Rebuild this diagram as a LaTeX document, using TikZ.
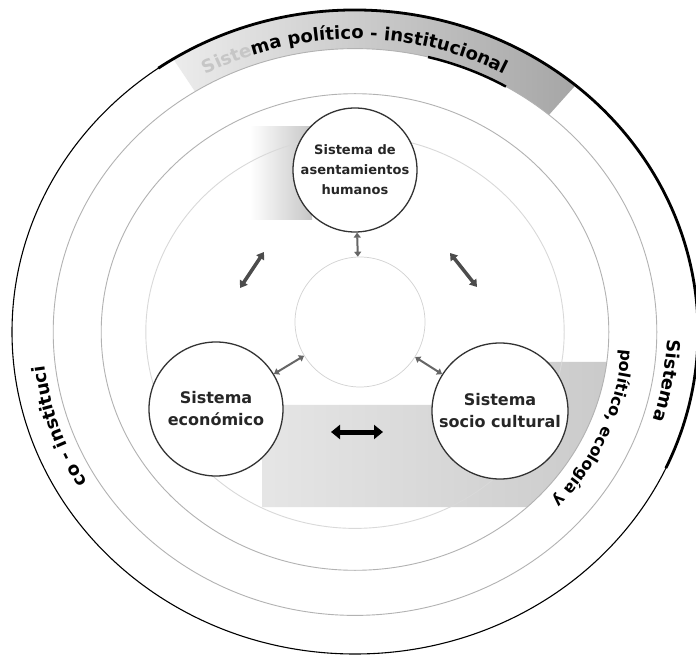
\documentclass[tikz,border=0pt]{standalone}
\usepackage{fontspec}
\newfontfamily\dv{DejaVu Sans}
\newcommand\ringf{\dv\bfseries\fontsize{18}{18}\selectfont}
\newcommand\innerf{\dv\bfseries\fontsize{16}{16}\selectfont}
\usetikzlibrary{calc,decorations.text,arrows.meta}
\begin{document}
\begin{tikzpicture}[x=1pt,y=1pt,
  ringline/.style={draw=gray!60, line width=0.9pt},
  sysnode/.style={circle, fill=white, draw=black!80, line width=1.3pt, align=center, inner sep=0pt, text=black!85},
  midnode/.style={circle, draw=gray!35, line width=0.7pt, inner sep=0pt},
  smallarr/.style={{Triangle[length=5pt,width=7pt]}-{Triangle[length=5pt,width=7pt]}, line width=2pt, draw=black!60},
  diagarr/.style={{Triangle[length=7pt,width=9pt]}-{Triangle[length=7pt,width=9pt]}, line width=3.5pt, draw=black!70},
  bigarr/.style={{Triangle[length=9pt,width=14pt]}-{Triangle[length=9pt,width=14pt]}, line width=5pt, draw=black},
  ringtext/.style={decorate, decoration={text along path, text align=center, text={#1}}},
  ringtextl/.style={decorate, decoration={text along path, text align=left, text={#1}}}
]
\useasboundingbox (0,0) rectangle (696,654);
\fill[white] (0,0) rectangle (696,654);
\coordinate (C) at (355,322);

% grey band of the outer ring
\shade[left color=gray!15, right color=gray!70]
  ($(C)+(122:343 and 322)$) arc[start angle=122,end angle=50,x radius=343,y radius=322]
  -- ($(C)+(50:301.8 and 283.4)$) arc[start angle=50,end angle=122,x radius=301.8,y radius=283.4] -- cycle;

% grey areas behind the circles
\shade[left color=white, right color=gray!45] (250,434) rectangle (312,527);
\begin{scope}
  \clip (C) ellipse[x radius=253.8,y radius=238.3];
  \shade[left color=gray!20, right color=gray!42]
    (262,249) -- (540,249) -- (540,292) -- (620,292) -- (620,147) -- (262,147) -- cycle;
\end{scope}

% rings
\draw[line width=1.1pt] (C) ellipse[x radius=343,y radius=322];
\draw[line width=2.8pt] ($(C)+(125:343 and 322)$) arc[start angle=125,end angle=-25,x radius=343,y radius=322];
\draw[ringline] (C) ellipse[x radius=301.8,y radius=283.4];
\draw[line width=2.5pt] ($(C)+(76:301.8 and 283.4)$) arc[start angle=76,end angle=60,x radius=301.8,y radius=283.4];
\draw[ringline] (C) ellipse[x radius=253.8,y radius=238.3];
\draw[ringline, draw=gray!30] (C) ellipse[x radius=209.2,y radius=196.4];

% ring texts
\path[ringtext={|\ringf\color{gray!45}|Siste|\ringf|ma político - institucional}]
  ($(C)+(150:312.1 and 293)$) arc[start angle=150,end angle=30,x radius=312.1,y radius=293];
\path[ringtextl={|\ringf|Sistema}]
  ($(C)+(-1.5:312.1 and 293)$) arc[start angle=-1.5,end angle=-40,x radius=312.1,y radius=293];
\path[ringtextl={|\ringf|co - instituci}]
  ($(C)+(211:312.1 and 293)$) arc[start angle=211,end angle=150,x radius=312.1,y radius=293];
\path[ringtextl={|\innerf|político, ecología y}]
  ($(C)+(-4:267.5 and 251.2)$) arc[start angle=-4,end angle=-80,x radius=267.5,y radius=251.2];

% circles
\node[midnode, minimum size=130pt] (mid) at (360,332) {};
\node[sysnode, minimum size=124pt, font=\dv\bfseries\fontsize{13}{20}\selectfont] (top) at (355,484) {Sistema de\\asentamientos\\humanos};
\node[sysnode, minimum size=134pt, font=\dv\bfseries\fontsize{16}{22}\selectfont] (eco) at (216,245) {Sistema\\económico};
\node[sysnode, minimum size=136pt, font=\dv\bfseries\fontsize{16}{22}\selectfont] (soc) at (500,243) {Sistema\\socio cultural};

% arrows
\draw[smallarr] (mid) -- (top);
\draw[smallarr] (mid) -- (eco);
\draw[smallarr] (mid) -- (soc);
\coordinate (tl1) at (240,366);
\coordinate (tl2) at (264,402);
\coordinate (tr1) at (450,401);
\coordinate (tr2) at (477,367);
\coordinate (h1) at (331,222);
\coordinate (h2) at (383,222);
\draw[diagarr] (tl1) -- (tl2);
\draw[diagarr] (tr1) -- (tr2);
\draw[bigarr] (h1) -- (h2);
\end{tikzpicture}
\end{document}
